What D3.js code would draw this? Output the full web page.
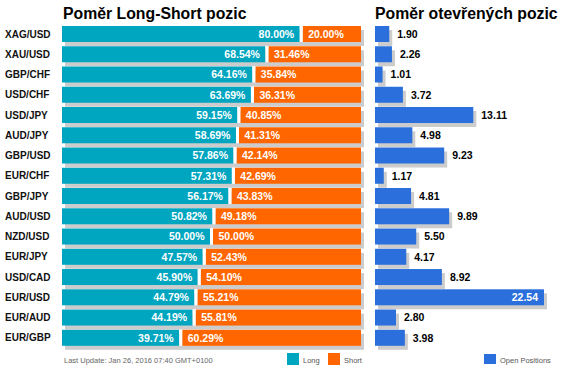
<!DOCTYPE html>
<html>
<head>
<meta charset="utf-8">
<script src="https://cdn.jsdelivr.net/npm/d3@7"></script>
<style>
  body { margin: 0; background: #fff; }
  svg { font-family: "Liberation Sans", Arial, sans-serif; }
  .title { font-size: 15.8px; font-weight: bold; fill: #000; }
  .pair { font-size: 10px; font-weight: bold; fill: #111; }
  .pct { font-size: 10.5px; font-weight: bold; fill: #fff; }
  .val { font-size: 10.5px; font-weight: bold; fill: #000; }
  .small { font-size: 7.5px; fill: #666; }
</style>
</head>
<body>
<script>
var fullWidth = 564;
var fullHeight = 373;

var pairs = ["XAG/USD", "XAU/USD", "GBP/CHF", "USD/CHF", "USD/JPY", "AUD/JPY", "GBP/USD", "EUR/CHF",
             "GBP/JPY", "AUD/USD", "NZD/USD", "EUR/JPY", "USD/CAD", "EUR/USD", "EUR/AUD", "EUR/GBP"];
var longPct = [80.00, 68.54, 64.16, 63.69, 59.15, 58.69, 57.86, 57.31,
               56.17, 50.82, 50.00, 47.57, 45.90, 44.79, 44.19, 39.71];
var shortPct = [20.00, 31.46, 35.84, 36.31, 40.85, 41.31, 42.14, 42.69,
                43.83, 49.18, 50.00, 52.43, 54.10, 55.21, 55.81, 60.29];
var openPos = [1.90, 2.26, 1.01, 3.72, 13.11, 4.98, 9.23, 1.17,
               4.81, 9.89, 5.50, 4.17, 8.92, 22.54, 2.80, 3.98];

var cLong = "#00a5c0";
var cShort = "#ff6600";
var cOpen = "#2a6fdb";
var cShadow = "#cccccc";

var rows = pairs.map(function(p, i) {
    return {pair: p, long: longPct[i], short: shortPct[i], open: openPos[i]};
});

var svg = d3.select("body").append("svg")
            .attr("width", fullWidth)
            .attr("height", fullHeight);

// row pitch 20, bar 16
var yScale = d3.scaleBand()
               .domain(pairs)
               .range([26, 26 + 20 * 16])
               .paddingInner(0.2)
               .paddingOuter(0)
               .align(0);

var xPct = d3.scaleLinear().domain([0, 100]).range([62, 361]);
var xOpen = d3.scaleLinear().domain([0, d3.max(openPos)]).range([375, 544]);

var bh = 16;

// titles
svg.append("text").attr("class", "title").attr("x", 63).attr("y", 19).text("Poměr Long-Short pozic");
svg.append("text").attr("class", "title").attr("x", 375).attr("y", 19).text("Poměr otevřených pozic");

var row = svg.selectAll(".row")
             .data(rows)
             .enter()
             .append("g")
             .attr("class", "row")
             .attr("transform", function(d) { return "translate(0," + yScale(d.pair) + ")"; });

// pair labels
row.append("text")
   .attr("class", "pair")
   .attr("x", 5)
   .attr("y", bh / 2)
   .attr("dy", ".35em")
   .text(function(d) { return d.pair; });

// shadows
row.append("rect")
   .attr("x", xPct(0) + 3)
   .attr("y", 4)
   .attr("width", xPct(100) - xPct(0))
   .attr("height", bh)
   .attr("fill", cShadow);

row.append("rect")
   .attr("x", xOpen(0) + 3)
   .attr("y", 4)
   .attr("width", function(d) { return xOpen(d.open) - xOpen(0); })
   .attr("height", bh)
   .attr("fill", cShadow);

// long bars
row.append("rect")
   .attr("x", xPct(0))
   .attr("y", 0)
   .attr("width", function(d) { return xPct(d.long) - xPct(0) - 1.5; })
   .attr("height", bh)
   .attr("fill", cLong);

// short bars
row.append("rect")
   .attr("x", function(d) { return xPct(d.long) + 1.5; })
   .attr("y", 0)
   .attr("width", function(d) { return xPct(100) - xPct(d.long) - 1.5; })
   .attr("height", bh)
   .attr("fill", cShort);

// white gap between long and short
row.append("rect")
   .attr("x", function(d) { return xPct(d.long) - 1.5; })
   .attr("y", 0)
   .attr("width", 3)
   .attr("height", bh)
   .attr("fill", "#fff");

row.append("text")
   .attr("class", "pct")
   .attr("x", function(d) { return xPct(d.long) - 7; })
   .attr("y", bh / 2)
   .attr("dy", ".36em")
   .style("text-anchor", "end")
   .text(function(d) { return d.long.toFixed(2) + "%"; });

row.append("text")
   .attr("class", "pct")
   .attr("x", function(d) { return xPct(d.long) + 7; })
   .attr("y", bh / 2)
   .attr("dy", ".36em")
   .text(function(d) { return d.short.toFixed(2) + "%"; });

// open positions
var maxOpen = d3.max(openPos);
row.append("rect")
   .attr("x", xOpen(0))
   .attr("y", 0)
   .attr("width", function(d) { return xOpen(d.open) - xOpen(0); })
   .attr("height", bh)
   .attr("fill", cOpen);

row.append("text")
   .attr("class", "val")
   .attr("x", function(d) { return d.open === maxOpen ? xOpen(d.open) - 6 : xOpen(d.open) + 8; })
   .attr("y", bh / 2)
   .attr("dy", ".36em")
   .style("text-anchor", function(d) { return d.open === maxOpen ? "end" : "start"; })
   .style("fill", function(d) { return d.open === maxOpen ? "#fff" : "#000"; })
   .text(function(d) { return d.open.toFixed(2); });

// footer
svg.append("text").attr("class", "small").attr("x", 64).attr("y", 363)
   .text("Last Update: Jan 26, 2016 07:40 GMT+0100");

var legend = [
    {label: "Long", color: cLong, x: 287},
    {label: "Short", color: cShort, x: 328},
    {label: "Open Positions", color: cOpen, x: 484}
];
var lg = svg.selectAll(".legend")
            .data(legend)
            .enter()
            .append("g")
            .attr("class", "legend")
            .attr("transform", function(d) { return "translate(" + d.x + ",353)"; });
lg.append("rect")
  .attr("width", 12)
  .attr("height", function(d, i) { return i == 2 ? 10 : 12; })
  .attr("y", function(d, i) { return i == 2 ? 1 : 0; })
  .attr("fill", function(d) { return d.color; });
lg.append("text")
  .attr("class", "small")
  .attr("x", 16)
  .attr("y", 9.5)
  .style("fill", "#555")
  .text(function(d) { return d.label; });
</script>
</body>
</html>
